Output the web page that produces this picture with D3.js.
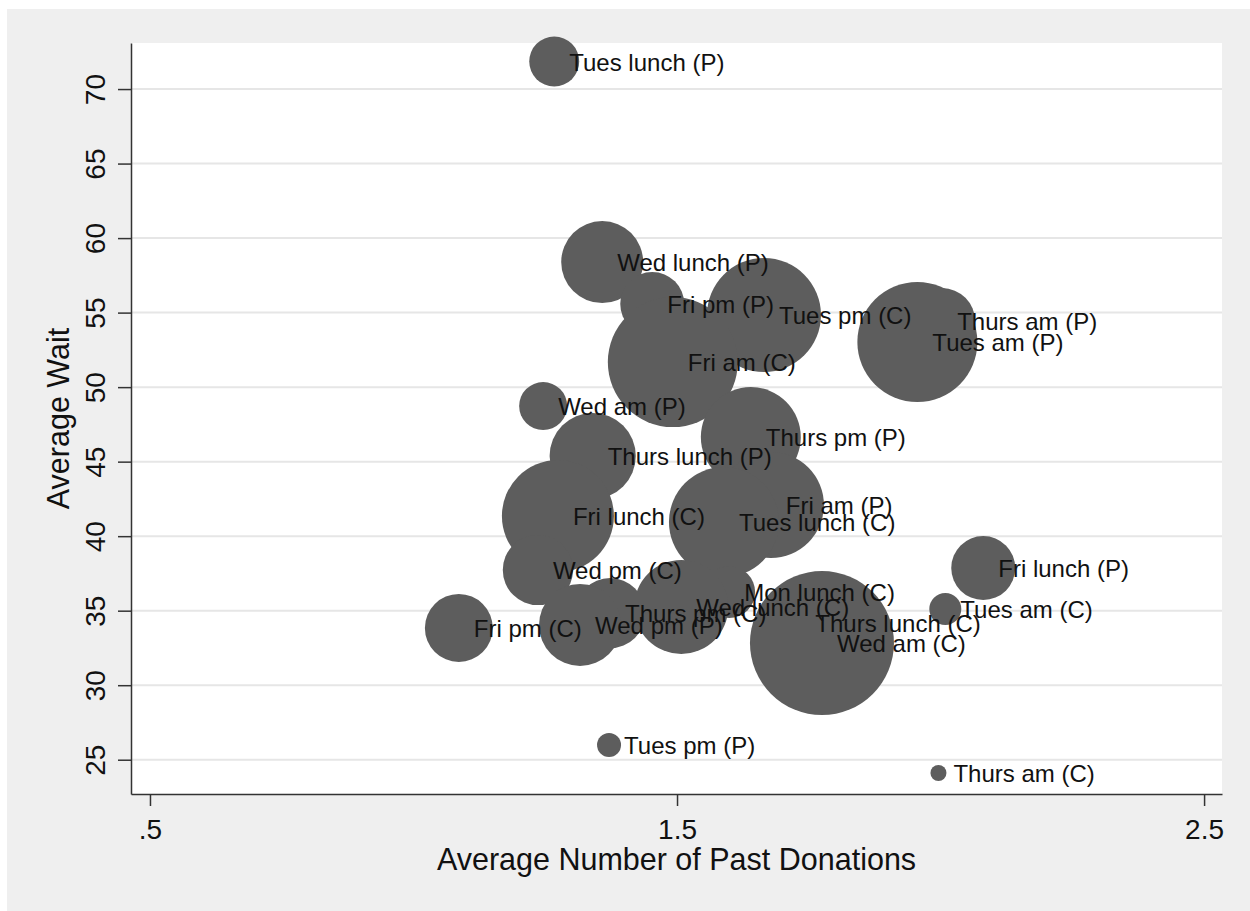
<!DOCTYPE html>
<html>
<head>
<meta charset="utf-8">
<script src="https://cdn.jsdelivr.net/npm/d3@7"></script>
<style>
  body { margin: 0; background: #fff; }
  text { font-family: "Liberation Sans", Arial, sans-serif; }
</style>
</head>
<body>
<div id="chart"></div>
<script>
let sessions = ["Tues lunch (P)", "Wed lunch (P)", "Fri pm (P)", "Tues pm (C)", "Thurs am (P)",
  "Tues am (P)", "Fri am (C)", "Wed am (P)", "Thurs pm (P)", "Thurs lunch (P)",
  "Fri am (P)", "Fri lunch (C)", "Tues lunch (C)", "Fri lunch (P)", "Wed pm (C)",
  "Mon lunch (C)", "Wed lunch (C)", "Tues am (C)", "Thurs pm (C)", "Thurs lunch (C)",
  "Wed pm (P)", "Fri pm (C)", "Wed am (C)", "Tues pm (P)", "Thurs am (C)"];
let pastDonations = [1.267, 1.358, 1.453, 1.665, 2.003,
  1.956, 1.492, 1.246, 1.640, 1.340,
  1.678, 1.274, 1.589, 2.081, 1.236,
  1.599, 1.508, 2.009, 1.373, 1.734,
  1.316, 1.086, 1.775, 1.371, 1.996];
let avgWait = [71.85, 58.39, 55.58, 54.84, 54.43,
  53.03, 51.68, 48.73, 46.65, 45.38,
  42.09, 41.35, 40.95, 37.86, 37.73,
  36.25, 35.25, 35.11, 34.84, 34.17,
  34.04, 33.84, 32.83, 25.99, 24.11];
// Gewicht = Blasenfläche
let weight = [39, 105, 64, 203, 68,
  225, 264, 36, 156, 116,
  176, 196, 189, 64, 77,
  42, 138, 16, 77, 77,
  105, 72, 324, 9, 4];
let xTicks = [0.5, 1.5, 2.5];
let yTicks = [25, 30, 35, 40, 45, 50, 55, 60, 65, 70];

let width = 1250,
  height = 911;
let plot = { left: 131, right: 1222, top: 43, bottom: 794 };

let data = [];
for (let i = 0; i < sessions.length; i++) {
  data.push({ label: sessions[i], x: pastDonations[i], y: avgWait[i], w: weight[i] });
}

let x = d3.scaleLinear()
  .domain([0.464, 2.534])
  .range([plot.left, plot.right]);

let y = d3.scaleLinear()
  .domain([22.70, 73.09])
  .range([plot.bottom, plot.top]);

let r = d3.scaleSqrt()
  .domain([0, d3.max(weight)])
  .range([0, 72]);

let svg = d3.select("#chart")
  .append("svg")
  .attr("width", width)
  .attr("height", height);

svg.append("rect")
  .attr("x", 7)
  .attr("y", 9)
  .attr("width", width - 7)
  .attr("height", height - 9)
  .style("fill", "#efefef");

svg.append("rect")
  .attr("x", plot.left)
  .attr("y", plot.top)
  .attr("width", plot.right - plot.left)
  .attr("height", plot.bottom - plot.top)
  .style("fill", "#fff");

// Gitterlinien
svg.append("g")
  .selectAll("line")
  .data(yTicks)
  .enter()
  .append("line")
  .attr("x1", plot.left)
  .attr("x2", plot.right)
  .attr("y1", d => y(d))
  .attr("y2", d => y(d))
  .style("stroke", "#e6e6e6")
  .style("stroke-width", 2);

// Achsen
let xAxis = svg.append("g")
  .attr("transform", "translate(0," + plot.bottom + ")")
  .call(d3.axisBottom(x)
    .tickValues(xTicks)
    .tickSize(12)
    .tickSizeOuter(0)
    .tickPadding(13)
    .tickFormat(d => String(d).replace(/^0\./, ".")));

xAxis.selectAll("text")
  .style("font-size", "28px")
  .style("fill", "#111");

let yAxis = svg.append("g")
  .attr("transform", "translate(" + plot.left + ",0)")
  .call(d3.axisLeft(y)
    .tickValues(yTicks)
    .tickSize(13)
    .tickSizeOuter(0));

yAxis.selectAll("text")
  .attr("transform", "rotate(-90)")
  .attr("x", 0)
  .attr("y", -26)
  .attr("dy", 0)
  .style("text-anchor", "middle")
  .style("font-size", "28px")
  .style("fill", "#111");

svg.selectAll(".domain, .tick line")
  .style("stroke", "#333")
  .style("stroke-width", 1.5);

svg.append("text")
  .attr("x", (plot.left + plot.right) / 2)
  .attr("y", 870)
  .style("text-anchor", "middle")
  .style("font-size", "30.5px")
  .style("fill", "#111")
  .text("Average Number of Past Donations");

svg.append("text")
  .attr("transform", "translate(69," + (plot.top + plot.bottom) / 2 + ") rotate(-90)")
  .style("text-anchor", "middle")
  .style("font-size", "30.5px")
  .style("fill", "#111")
  .text("Average Wait");

// Blasen
svg.append("g")
  .selectAll("circle")
  .data(data)
  .enter()
  .append("circle")
  .attr("cx", d => x(d.x))
  .attr("cy", d => y(d.y))
  .attr("r", d => r(d.w))
  .style("fill", "#5d5d5d");

// Beschriftungen rechts vom Mittelpunkt
svg.append("g")
  .selectAll("text")
  .data(data)
  .enter()
  .append("text")
  .attr("x", d => x(d.x) + 15)
  .attr("y", d => y(d.y))
  .attr("dy", "0.38em")
  .style("font-size", "24px")
  .style("fill", "#111")
  .text(d => d.label);
</script>
</body>
</html>
